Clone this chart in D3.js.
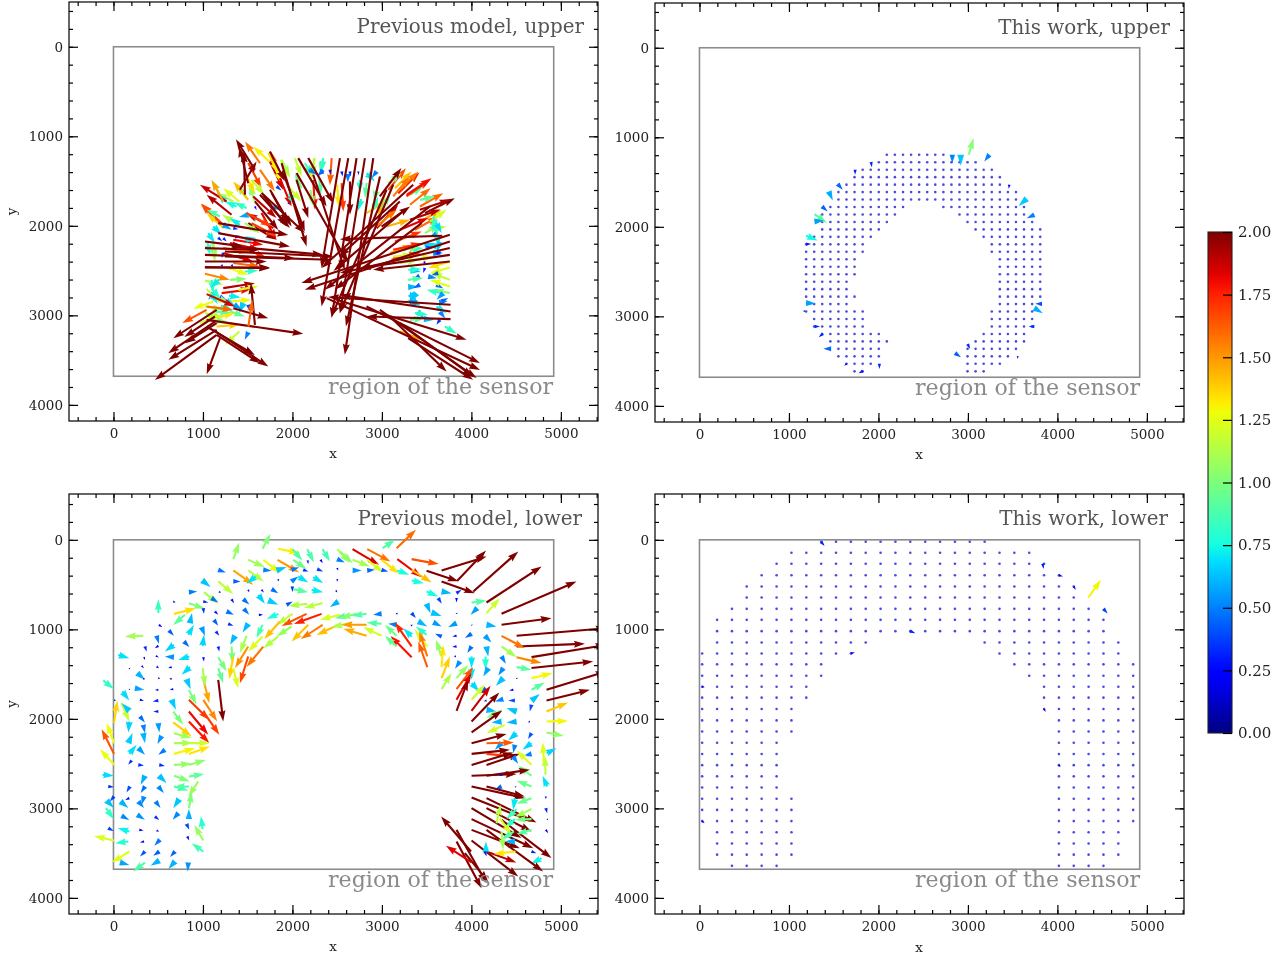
<!DOCTYPE html>
<html><head><meta charset="utf-8">
<script src="https://cdn.jsdelivr.net/npm/d3@7/dist/d3.min.js"></script>
<style>html,body{margin:0;background:#fff}svg{display:block;filter:blur(.3px)}text{font-family:"DejaVu Serif",serif}</style>
</head><body><svg id="c" width="1288" height="959"></svg>
<script>
// ---- values: [x, y, u, v] ----
const prevLowerArrows = [
[1339,216,.35,-.98],[1666,100,.47,-.88],[1841,100,1.27,.25],[2002,104,.57,.67],[2166,104,.39,.78],[2337,104,.43,.73],[2500,104,.75,.82],[1506,223,.98,.43],[1674,223,.98,.78],[1834,223,1.27,.75],[2009,223,.78,.55],[1171,335,.45,.15],[1339,342,1.18,.84],[1506,342,.92,.65],[1674,335,.49,.05],[1823,342,.59,-.2],[1990,335,.45,-.15],[2121,335,.3,.1],[2277,327,.35,.14],[2500,316,.06,.14],[2170,230,.04,.22],[2315,223,.12,.2],[2500,216,.45,.2],
[992,454,.49,.39],[1171,465,.88,.73],[1339,465,.43,0],[1588,410,-.53,.43],[1842,440,0,.14],[1990,465,.4,-.3],[2065,410,.59,.35],[2232,417,.59,.35],[2500,440,.02,.14],[843,584,.49,-.04],[1011,584,.84,.69],[1182,577,.08,.1],[1506,558,.06,.14],[1655,558,.14,.16],[1767,551,.39,.24],[1998,521,.02,.33],[2009,551,.88,.18],[2214,558,.69,.14],[2486,566,.08,.12],
[668,689,.14,.06],[843,708,.94,.33],[1004,689,.3,.06],[1097,651,.39,.25],[1320,663,.14,.24],[1451,663,.35,.31],[1618,614,.39,.53],[1730,677,.59,.25],[1935,726,.35,-.2],[2165,715,-1.1,.12],[2337,707,-1.1,.29],[2512,689,-.49,.33],[676,827,1.29,-.33],[799,838,-.69,.59],[855,931,.12,-.6],[1004,764,.04,.33],[1134,800,.2,.2],[1264,800,.43,.2],[1458,771,.31,.35],[1625,838,.25,0],[1842,827,-.69,.31],[2158,827,-1.47,.71],[2326,827,-1.63,.59],[2002,827,-.94,.65],[1860,912,-.92,1.04],[2530,838,-1.18,.29],[2642,838,-.88,.2],[501,819,0,-.82],
[333,1072,-1.08,.04],[508,950,.2,.14],[620,1013,.29,.31],[482,1072,.14,.47],[836,1061,.33,-.59],[985,976,.2,.51],[1123,894,.25,.35],[1145,1024,.2,.25],[1283,938,.3,.12],[1506,938,-.33,.51],[1666,950,-.35,.78],[1990,968,-.88,.59],[2177,950,-.98,.98],[2337,950,-1.29,.84],[2512,950,-1.27,.59],[2642,931,-1.08,.24],[997,1184,.08,-.65],[1358,1072,-.29,.53],[1488,1072,-.39,1.02],[1666,1080,-.84,.88],[1842,1080,-.88,.69],[352,1191,.1,.3],[501,1184,-.2,.14],[676,1173,-.53,.39],[788,1136,.31,.33],[1171,1192,.06,.3],[1320,1192,.06,.98],[1506,1192,-.78,1.27],[1674,1192,-.98,1.2],
[54,1285,.65,.2],[341,1311,.06,.16],[475,1296,.18,.1],[676,1311,-.53,-.04],[847,1303,-.65,.2],[1004,1311,.04,.25],[1171,1311,.49,.84],[1339,1303,-.24,1.33],[1506,1303,-.49,1.57],[177,1434,.04,.06],[315,1408,.14,.14],[482,1415,.14,.1],[650,1422,-.2,.06],[855,1422,-.49,.45],[1171,1434,.29,.88],[1339,1434,.29,1.18],[266,1489,.45,.39],[333,1553,.1,0],[501,1545,.1,.04],[650,1553,-.14,0],[-114,1571,.63,.51],[177,1668,.04,.04],[240,1657,.55,.1],[501,1676,-.2,0],[668,1668,-.2,.04],[817,1557,.24,.59],[1004,1557,.35,1.41],[997,1434,.14,1.08],[1171,1564,.29,2.45],
[17,1787,-.04,.08],[99,1694,.41,.53],[296,1787,.24,.06],[501,1795,-.33,.06],[650,1787,.25,.59],[843,1676,.45,.88],[1004,1787,.82,1.27],[843,1787,1.2,1.18],[6,2048,.2,-1.33],[91,1825,.45,1.08],[177,1910,-.45,-.45],[296,1973,.29,.35],[501,1918,-.29,0],[668,1918,.59,.78],[843,1918,1.14,1.37],[1004,1918,.94,1.37],[177,2030,-.06,.65],[333,2067,.1,.49],[501,2048,.06,.55],[668,2040,1.08,.82],[843,2030,1.2,1.27],[6,2272,-.43,-1.18],[6,2391,-.73,-1.45],[9,2514,-.84,-.92],[166,2271,.25,-.59],[333,2160,.1,.59],[538,2190,-.25,.47],[676,2160,1.04,.29],[676,2271,1.1,0],[855,2271,1.18,0],[676,2391,1.24,-.33],[843,2391,1.24,-.43],[177,2391,.43,-.53],[278,2327,.39,.39],[575,2346,-.39,.29],[203,2465,-.2,.25],[278,2514,.33,.04],[512,2514,.33,.06],[676,2514,1.04,-.06],[843,2514,1,-.29],
[-121,2625,.67,.06],[352,2636,-.25,.53],[508,2636,.45,.43],[676,2636,.94,.33],[843,2644,.9,-.14],[-58,2755,.33,.04],[184,2755,-.2,.35],[352,2755,-.25,.39],[501,2755,.33,.39],[676,2755,.84,.24],[843,2755,-.88,.04],[948,2700,-.59,.88],[844,2998,.16,-.98],[6,2867,-.24,.29],[177,2886,-.25,.1],[278,2923,.33,.39],[80,2923,.45,.39],[-76,2912,.43,.45],[341,2867,-.14,.49],[471,2923,.29,.39],[735,2897,-.35,.53],[-84,2998,.47,.65],[91,3083,.45,.24],[266,3072,.45,.29],[464,3091,.25,.2],[725,3053,-.33,.39],[843,3120,0,-.59],[996,3232,-.1,-.78],[1004,3359,-.53,-.92],[1004,3482,-.69,-.49],[-58,3221,.33,.16],[177,3258,-.69,-.2],[289,3240,.25,.04],[482,3247,.16,.06],[817,3173,.16,.35],[6,3359,-1.18,-.27],[166,3370,-.78,.1],[341,3370,-.24,.06],[519,3351,-.33,.35],[825,3314,.12,.24],[177,3482,-1.04,.65],[352,3482,-.29,.29],[512,3482,-.35,.25],[688,3482,-.29,.33],[73,3605,.55,.14],[352,3605,-.69,.53],[512,3582,-.51,.31],[688,3593,-.39,.45],[836,3605,-.04,.53],
[3164,93,1.14,-1.08],[3008,93,.73,-.49],[2672,104,1.57,.92],[2836,104,1.37,.73],[2531,130,.75,.69],[2672,223,1.02,.39],[2836,223,.94,.75],[2996,223,1.04,.82],[3332,216,1.6,.29],[3172,216,1.43,1.06],[3332,335,1.18,.75],[3499,346,1.88,.62],[3667,342,2.65,-.82],[3842,458,1.69,-1.78],[3667,465,1.96,.69],[4021,577,2.65,-2.35],[4169,700,3.24,-2.12],[4337,826,4.41,-1.9],[4169,819,.78,-.88],[4002,700,.88,-.1],[4337,949,2.94,-.39],[4505,1072,5.3,-.45],[4505,1191,4.02,-.16],[4672,1311,4.41,-.73],[4672,1433,3.63,-.39],[4840,1675,3.53,-1.08],[4840,1795,2.55,-.63],[4337,1072,1.37,.73],[4337,1191,.88,.63],[4505,1311,1.47,.35],[4505,1422,.88,.16],[4672,1545,1.24,-.29],[4672,1675,.78,-.43],[4672,1795,.49,-.39],[4840,1918,1.27,-.53],[4840,2030,1.27,-.04],[4840,2152,1.02,.2],[4840,2383,.59,-.29],[4829,2625,-.04,-1.14],[4810,2495,-.06,-1.22],[4847,2755,-.27,-.63],[4832,2867,0,.15],[4832,2998,.08,.3],[4847,3120,.05,.04],[4832,3240,.14,.2],[4784,3556,-.63,.35],
[2672,342,.53,0],[2836,342,.45,-.04],[2996,335,.39,.1],[3172,342,.71,.25],[3332,454,.73,.16],[3499,577,.69,.29],[3667,577,.59,.1],[3834,596,.29,-.2],[3630,651,.2,.33],[3834,651,0,.25],[3499,715,.24,.55],[3555,812,.59,.2],[4065,763,-.39,.39],[3834,819,.02,.05],[4169,949,.59,.1],[4002,949,.04,.05],[3406,912,.53,.29],[3574,923,.49,.24],[3834,931,-.49,.24],[4151,1072,.39,.39],[3667,1080,-.39,-.16],[3834,1072,-.25,.04],[4002,1050,-.39,.25],[3834,1191,-.25,.04],[4002,1191,-.25,.39],[4169,1191,.1,.59],[4337,1303,.25,.43],[3816,1296,.06,.1],[4002,1303,0,.69],[4158,1303,0,.78],[3872,1359,-.29,.43],[4188,1433,-.29,.49],[4356,1433,-.29,.43],[4002,1433,0,.69],[4505,1545,.05,.05],[4356,1545,-.43,.45],[4002,1601,.45,.49],[4162,1657,-.31,.29],[4468,1675,-.24,.04],[4486,1795,-.39,0],[4672,1843,-.1,.39],[4356,1780,-.49,.14],[4169,1795,-.16,.04],[4505,1918,-.59,-.2],[4169,1899,.59,.1],[4337,1906,-.88,.45],[4505,2030,-.59,.06],[4337,2030,-.59,.06],[4653,2030,-.1,.04],[4672,2160,-.2,.35],[4374,2067,-1.08,.49],[4505,2160,-.49,.43],[4672,2272,-.53,.39],[4337,2272,-.39,.39],[4486,2290,-.1,.49],[4672,2391,-.49,.12],
[4169,2272,1.61,-.04],[4002,2272,2.06,-.55],[4002,2391,2.25,-.24],[4169,2391,1.67,.16],[4002,2514,2.45,-.73],[4169,2514,1.96,-.65],[4672,2514,-.88,-.84],[4467,2420,.29,.43],[4672,2636,-.78,-.59],[4002,2636,2.65,-.1],[4169,2636,2.55,-.35],[4318,2625,.2,.04],[4672,2755,-.88,-.33],[4337,2755,-.39,.2],[4492,2755,.02,.06],[4002,2755,3.14,.69],[4169,2755,2.25,.59],[4002,2878,3.53,1.41],[4169,2886,2.94,1.43],[4002,2998,2.94,1.76],[4002,3120,3.63,1.71],[4337,3128,2.94,2.25],[4002,3240,2.84,1.08],[4169,3240,3.33,2.45],[4169,2998,2.65,1.37],[4002,3359,2.75,2.12],[3996,3482,-1.76,-2.06],[3834,3240,1.76,3.14],[3834,3370,1.47,2.75],[3927,3500,1.37,1.67],[4002,3604,-1.51,-.98],[4169,3482,1.76,.65],[4494,3482,-1.3,.14],[4162,3500,0,-.69],[4151,3482,.1,.29],[4281,3165,.24,-1.1],[4486,2886,-.1,.69],[4672,2886,-.88,.33],[4672,3008,-.98,.47],[4672,3120,-.98,.04],[4672,3240,-.88,.24],[4505,3008,-.59,.59],[4486,3120,-.59,.53],[4318,3109,.69,.98],[4475,3258,-.73,.49],[4337,3258,.1,1.08],[4486,3370,-.59,0],[4672,3482,.29,.1],
[2717,826,-.98,.25],[2829,826,-.88,.12],[2996,826,-.49,.06],[3164,819,.04,.1],[3332,819,.25,.29],[2829,949,-1.47,0],[2996,938,-.88,-.08],[3164,949,-.49,-.06],[3332,949,0,.1],[2829,1072,-1.37,-.41],[2996,1072,-1.08,-.51],[3164,1072,-.69,-.65],[3332,1191,-.98,-1.41],[3332,1080,-.49,-.49],[3499,1061,-.63,-.49],[3507,1191,-.73,-.98],[3332,1311,-1.24,-1.25],[3164,1191,-.69,-.63],[3507,1303,-.47,-1.47],[3507,1422,-.53,-1.51],[3667,1303,-.33,-.98],[3667,1422,.1,-1.31],[3667,1545,.49,-1.27],[3667,1668,.59,-.94],[3834,1545,.69,-.78],[3834,1668,.98,-1.29],[3834,1787,.88,-1.57],[3834,1910,.69,-1.82],[4002,1787,.78,-.88],[4002,1910,1.12,-1.47],[4002,2030,1.63,-1.7],[4002,2152,1.8,-1.29]
];
const prevUpperColoured = [
[1179,1635,-.43,-.78],[1406,1728,-.94,-.78],[1488,1690,-.6,-.8],[1581,1728,-.35,-.98],[1190,1970,-1.14,-1.14],[1235,2026,-1.02,-.88],[1395,1988,-.95,-.6],[1339,1728,-.98,-.49],[1488,1802,-.73,-.33],[1376,1784,-.69,-.29],[1413,1988,-.59,-.39],[1507,1876,-.55,.14],[1060,2082,.39,.59],[1115,2212,.06,.88],[1227,1988,.49,.29],[1115,2007,.49,.49],[1170,2134,.24,.2],[1339,2026,.29,.06],[1358,2126,.29,-.08],[1637,1932,-.78,-.29],[1786,2026,-1.57,-.88],[1506,1970,1.67,.98],[1469,1970,.88,.59],[1637,1653,1.76,1.96],[1581,1728,1.37,1.67],[1767,1634,.98,1.76],[1749,1597,1.27,2.16],[1749,1281,.78,1.67],[1842,1448,-.43,-1.47],[1730,1188,.59,1.18],[1506,1299,.78,1.47],[1637,1374,.88,1.27],[1469,1411,.59,1.18],[1544,1486,.75,.88],[1871,1262,.53,1.08],[1786,1299,.49,1.18],[1953,1560,.78,.88],[2028,1244,.39,1.08],[2102,1579,-.39,-.88],[1823,1560,.29,.24],[1786,1784,.49,.2],[1952,1740,.16,.14],[1581,1784,.1,.2],[1655,1858,.88,1.57],[1227,2249,1.57,.24],
[1748,1169,.88,1.76],[1879,1262,.49,.98],[2140,1299,.39,.78],[2195,1355,.39,.39],[2344,1393,-.35,.2],[2251,1244,-.2,1.27],[2344,1244,-.2,.88],[2233,1486,.1,1.76],[1860,1467,.69,1.67],[1562,1672,1.37,1.27],[1674,1653,1.37,1.86],[1488,1858,1.47,.78],[1544,1970,1.47,.78],[1506,1709,-.88,-1.08],[1246,1728,-.45,-.49],[1209,1970,-1.18,-1.14],[1190,1895,-.78,-.39],[1302,2193,1.76,.39],[1227,2305,1.76,.49],[1339,2416,1.57,.2],[1413,2230,1.57,.69],[1339,2156,1.76,.29],[1469,2156,.69,-.1],[1115,2193,.1,1.08],[1227,2138,.2,.2],[1227,2305,-.1,.29],[1209,2435,.06,.14],[1320,2435,.1,.14],
[1022,2536,1.47,.35],[1227,2696,1.86,-.29],[1022,2610,1.08,.25],[1302,2603,1,-.06],[1469,2510,.78,-.06],[1283,2472,1.18,.39],[1115,2845,-1.18,.43],[1209,2752,1.76,-.24],[1097,2603,.1,.78],[1115,2752,-.29,.39],[1041,2707,.78,.82],[1190,2789,.39,.2],[1115,2789,.98,.39],[1022,2901,1.08,.2],[1022,2975,1.08,.29],[1302,2845,1.27,-.1],[1395,2715,1.18,-.2],[1302,2957,.88,.29],[1115,3031,1.27,-.29],[1153,3124,1.37,-.1],[966,3087,1.08,-.49],[1451,2863,-.24,.59],[1506,2882,.1,.39],[1506,3188,-.2,.45],[1406,3180,-.84,.78],
[1050,2180,.15,.8],[1100,2700,.5,.6],[1090,2760,.4,.6],[1180,2600,-.5,.5],[1250,2830,.6,.35],[1200,2890,.7,.3],[1290,2780,.7,.1],[1350,2880,.45,.3],[1140,2960,.9,.05],[1080,3050,1,.1],
[3183,1635,1.24,-1.22],[3313,1765,1.22,-.98],[3425,1784,1.37,-.78],[3481,1858,1.76,-.88],[3071,1598,1.04,-1.27],[3071,1523,.78,-.59],[3146,1579,.98,-.98],[3425,1710,.88,-.2],[3313,1654,.78,-.49],[3425,1952,1.27,-.69],[3369,2045,1.37,-.78],[3146,2175,1.57,-.59],[3108,2380,1.67,-.39],[3090,2305,1.37,-.49],[3537,1952,.98,-.69],[3481,2082,.88,-.49],[3574,1896,.2,.8],[3574,2082,.39,.39],[3481,2231,.59,-.2],[3574,2305,.49,-.1],[3313,2268,.78,-.1],[3201,2417,1.08,-.2],[3239,2268,.98,-.2],[2941,2026,1.27,-1.37],
[3052,2007,1.37,-.39],[3126,2268,1.67,-.39],[3126,2361,1.6,-.3],[2940,2007,1.18,-.98],[2828,1858,1.18,-.69],[2977,1672,1.27,-1.67],[3126,1672,.98,-1.18],[3201,1597,1.08,-1.08],[3275,1672,1.37,-.98],[3424,1821,1.8,-.6],[3312,1932,1.8,-.6],[3201,2044,1.67,-.69],[3517,2044,1.08,-.2],[3555,1970,.4,.7],[3629,2231,-.69,-.1],[3350,2379,1.18,-.2],[3573,2305,.59,0],[3480,2472,-.1,.29],[3610,2659,.39,.2],[3350,2752,-.2,.6],[3424,2882,-.78,-.29],
[3610,1970,.3,.6],[3610,2100,.2,.7],[3650,2180,-.2,.6],[3500,2250,.4,-.1],[3650,2300,-.4,.1],[3320,2500,.6,.05],[3420,2560,-.4,.2],[3320,2760,.4,.5],[3640,2860,.5,-.1],[3400,2960,.4,.4],[3310,2860,.6,.1],[3470,3040,.6,.05],[3650,2960,.3,.4],
[2345,1244,-.1,.8],[2241,1244,-.08,1.08],[2438,1244,-.1,1.6],[2196,1374,.39,.29],[2337,1374,-.25,.39],[2419,1374,.04,.29],[2550,1393,.06,.29],[2643,1393,.04,.29],[2736,1393,.02,.2],[2829,1412,.49,.49],[2941,1393,-.29,.39],[2550,1523,.1,1.67],[2643,1505,0,1.96],[2754,1486,0,.78],[2903,1821,.29,-.78],[3034,1635,-.39,1.37],
[2300,1480,.1,.9],[2620,1420,0,.5],[2830,1520,-.1,.9],[2950,1560,-.2,.9],[3000,1800,.5,-.8],[2770,1700,-.2,.7],[2500,1540,.1,1.3],[2200,1600,.2,1],[1960,1640,.4,.7],
[3759,2398,-1.27,.39],[3759,2465,-1.18,.35],[3759,2603,-1.08,-.39],[3759,2677,-1.18,-.39],[3759,2751,-.98,-.2],[3647,2751,-.78,-.2],[3294,2491,.78,-.04],[3294,2603,.88,-.1],[3294,2685,.59,-.04],[3424,2659,-.39,.2],[3387,2752,-.39,.49],[3387,2864,-.49,-.2],[3610,2901,.59,.39],[3685,2752,-.39,.39],[3647,3050,-.2,.29],[3313,3050,.88,-.1],[3704,3124,.69,.43],[3201,3180,1.37,.49],[3368,2975,.78,.1],[3473,2398,.08,.2],[3610,2305,.29,-.04],[3126,2342,1.18,-.1],[3518,2566,.5,.1],[3629,2529,-.4,.12],[3666,2845,.4,-.2]
];
const prevUpperDark = [
[1581,1374,-1.12,-1.8],[1506,1523,-.53,-2.16],[1637,1299,-.88,-1.27],[1469,1653,-.06,-2.55],[1741,1281,-.94,-.88],[1413,1597,.98,-1.67],[1264,1728,-1.57,-.98],[1320,1877,-1.47,-1.18],[1227,1728,-.69,-1.27],
[1171,1970,4.12,.69],[1171,2082,4.22,.78],[1022,2175,2.25,.29],[1022,2249,3.24,.1],[1022,2324,5.29,.2],[1246,2286,6.37,.29],[1022,2398,3.63,0],[1022,2465,3.82,0],[1246,2342,6.27,.2],[1320,2230,5.39,.49],
[1879,1299,1.47,4.9],[1655,1634,2.55,2.35],[2046,1411,3.04,5.29],[1897,1411,1.27,3.43],[2065,1244,1.67,2.84],[2177,1244,1.47,2.65],[2232,1430,1.86,5.59],[2046,1486,.69,2.25],
[2531,1244,-1.08,6.47],[2624,1244,-1.57,8.73],[2717,1244,-1.47,9.41],[2810,1244,-1.47,9.12],[2903,1244,-1.67,11.57],[2978,1449,-2,8.82],
[3759,2100,-8.73,2.84],[3759,2175,-8.53,2.84],[3759,2249,-6.47,1.47],[3759,2324,-5.29,.78],[3759,2398,-4.51,.49],[3052,1597,-3.24,7.45],[3350,1541,-5.39,4.9],[3536,1783,-6.18,4.9],[3126,1541,-3.14,7.55],[3201,1728,-3.57,3.24],[3674,2111,-6.02,.2],[3276,1654,1.47,-.98],[2997,2008,1.67,-1.18],[3257,1821,-4.2,3.6],[3443,1970,-5.1,3.9],
[3767,2882,-7.2,-.45],[3767,2957,-6.51,-.98],[3767,3042,-4.94,-.16],[2382,2808,9.02,4.22],[2493,2826,7.65,2.35],[2828,2901,6.67,3.33],[2977,2938,5.69,4.02],[3201,3087,4.31,3.14],[3126,3050,3.14,3.04],[3294,3255,3.82,2.45],
[1041,2938,-1.43,.78],[1153,2938,-2.55,1.67],[1134,3069,-2.75,1.86],[1153,3162,-2.84,1.76],[1153,3087,-1.86,1.18],[1153,3218,-3.63,2.65],[1190,3255,-.78,2.12],[1041,3125,2.84,1.67],[1115,3162,3.24,2.16],[1153,3218,2.55,1.67],[1041,3050,5.69,.82],[1339,2920,2.06,.59],[1581,3106,-.24,-2.45],[1507,3125,.24,-1.57],[1022,2462,3.82,.06],[1041,2763,1.67,.73],[1041,2901,1.57,.2],[1134,3013,-1.8,1.2]
];
const thisUpperArrows = [
[3009,1195,.29,-.97],[2919,1195,0,.63],[2826,1195,0,.5],[3240,1195,-.3,.4],[1918,1277,.05,.3],[1739,1362,0,.3],[1545,1523,.3,.33],[1445,1605,.24,.53],[1370,1773,.33,.29],[1285,1858,.72,.53],[1285,1940,.55,-.06],[1192,2100,.68,.27],[1192,2193,.3,0],[1192,2852,.55,.02],[1168,2947,.04,-.1],[1285,3113,.33,0],[1378,3195,-.24,.2],[1471,3362,-.45,0],[1645,3530,-.14,.12],[2011,3530,0,.3],[1824,3612,-.24,.12],[3657,1686,-.47,.43],[3742,1866,-.45,.2],[3463,1530,-.04,.24],[3828,2860,-.4,0],[3742,2908,.5,.3],[3742,3113,-.33,0],[2856,3411,.35,.24],[2998,3310,.14,.28],[3556,3446,0,.15]
];
const thisLowerArrows = [
[4346,644,.745,-1.04],[3836,268,.06,.3],[4017,395,.24,.08],[4183,521,.12,.2],[4515,771,.25,.27],[3851,1890,.1,.18],[4017,2517,.1,.1],[1360,22,.2,.25],[2356,1020,.3,.12],[1692,1270,.24,-.08],[30,1641,.15,.03],[30,3142,.15,.13]
];
const thisUpperCols = [1192,1282,1372,1463,1553,1643,1733,1824,1914,2004,2094,2184,2275,2365,2455,2545,2635,2726,2816,2906,2996,3086,3176,3267,3357,3447,3537,3627,3718,3808];
const thisUpperRows = [
[1195,[[10,17]]],[1278,[[9,21]]],[1362,[[7,23]]],[1445,[[6,24]]],[1529,[[5,24]]],[1612,[[4,26]]],[1695,[[4,26]]],[1779,[[3,12],[17,27]]],[1862,[[2,11],[19,27]]],[1946,[[2,10],[20,28]]],[2029,[[2,9],[21,29]]],[2112,[[1,8],[22,29]]],[2196,[[0,7],[23,29]]],[2279,[[0,7],[23,29]]],[2363,[[0,6],[24,29]]],[2446,[[0,6],[24,29]]],[2529,[[0,6],[24,29]]],[2613,[[0,5],[24,29]]],[2696,[[0,5],[24,29]]],[2780,[[0,6],[24,29]]],[2863,[[1,5],[24,29]]],[2946,[[0,7],[23,28]]],[3030,[[1,7],[23,28]]],[3113,[[1,7],[23,28]]],[3197,[[2,9],[22,27]]],[3280,[[3,10],[21,27]]],[3363,[[4,9],[20,26]]],[3447,[[4,9],[20,25]]],[3530,[[5,8],[20,24]]],[3614,[[6,7],[20,22]]]
];
const thisLowerCols = [30,197,363,528,695,862,1028,1194,1360,1526,1692,1858,2024,2190,2356,2523,2689,2855,3021,3187,3353,3519,3685,3851,4017,4183,4349,4515,4681,4847];
const thisLowerRows = [
[22,[[8,19]]],[145,[[6,22]]],[268,[[5,23]]],[395,[[4,24]]],[521,[[3,25]]],[644,[[3,25]]],[771,[[2,26]]],[894,[[1,27]]],[1020,[[1,27]]],[1147,[[1,11],[19,28]]],[1270,[[0,10],[20,28]]],[1391,[[0,8],[21,29]]],[1518,[[0,8],[22,29]]],[1641,[[0,7],[23,29]]],[1763,[[0,7],[23,29]]],[1890,[[0,6],[23,29]]],[2017,[[0,6],[24,29]]],[2142,[[0,6],[24,29]]],[2267,[[0,5],[24,29]]],[2392,[[0,5],[24,29]]],[2517,[[0,5],[24,29]]],[2642,[[0,5],[24,29]]],[2767,[[0,5],[24,29]]],[2892,[[0,6],[24,29]]],[3017,[[0,6],[24,29]]],[3142,[[0,6],[24,29]]],[3267,[[1,6],[24,28]]],[3392,[[1,6],[24,28]]],[3517,[[1,6],[24,28]]],[3642,[[2,5],[24,27]]]
];
const xTicks = [0,1000,2000,3000,4000,5000];
const yTicks = [0,1000,2000,3000,4000];
const colorTicks = [0,.25,.5,.75,1,1.25,1.5,1.75,2];
const sensorW = 4920, sensorH = 3680;
const titles = ["Previous model, upper","This work, upper","Previous model, lower","This work, lower"];

// ---- colour ----
const jetR = d3.scaleLinear([0,.35,.66,.89,1],[0,0,1,1,.5]);
const jetG = d3.scaleLinear([0,.125,.375,.64,.91,1],[0,0,1,1,0,0]);
const jetB = d3.scaleLinear([0,.11,.34,.65,1],[.5,1,1,0,0]);
const jet = t => { t=Math.max(0,Math.min(1,t)); return `rgb(${Math.round(jetR(t)*255)},${Math.round(jetG(t)*255)},${Math.round(jetB(t)*255)})`; };

// ---- layout ----
const panels = [
 {x:[69,598],y:[2,421],dy:[-500,4180],ttl:[584,33],reg:[553,394],xl:[333,458],yl:true,arrows:[...prevUpperColoured,...prevUpperDark]},
 {x:[655,1184],y:[3,422],dy:[-500,4180],ttl:[1170,34],reg:[1140,395],xl:[919,459],yl:false,arrows:thisUpperArrows,cols:thisUpperCols,rows:thisUpperRows},
 {x:[69,598],y:[494,914],dy:[-512,4180],ttl:[582,525],reg:[553,887],xl:[333,951],yl:true,arrows:prevLowerArrows},
 {x:[655,1184],y:[494,914],dy:[-512,4180],ttl:[1168,525],reg:[1140,887],xl:[919,952],yl:false,arrows:thisLowerArrows,cols:thisLowerCols,rows:thisLowerRows}
];
const svg = d3.select("#c");
const pxPerUnit = 17, shaft = 2.1, headW = 7, headL = 11, colourTop = 1.97;

function arrowPath(px,py,dx,dy){
  const L=Math.hypot(dx,dy); if(L<.01) return "";
  const ux=dx/L,uy=dy/L; const k=Math.min(1,L/headL);
  const hl=headL*k,hw=Math.max(1.1,headW*k/2),sw=shaft*k/2;
  const P=(a,b)=>[px+ux*a-uy*b,py+uy*a+ux*b];
  const pts=L>headL?[P(0,-sw),P(L-hl*.9,-sw),P(L-hl,-hw),P(L,0),P(L-hl,hw),P(L-hl*.9,sw),P(0,sw)]:[P(0,0),P(L-hl,-hw),P(L,0),P(L-hl,hw)];
  return "M"+pts.map(p=>p[0].toFixed(1)+","+p[1].toFixed(1)).join("L")+"Z";
}

panels.forEach((p,i)=>{
  const xs=d3.scaleLinear([-497,5415],p.x), ys=d3.scaleLinear(p.dy,p.y);
  const g=svg.append("g");
  const id="clip"+i;
  svg.append("clipPath").attr("id",id).append("rect").attr("x",p.x[0]).attr("y",p.y[0]).attr("width",p.x[1]-p.x[0]).attr("height",p.y[1]-p.y[0]);
  g.append("rect").attr("x",xs(0)).attr("y",ys(0)).attr("width",xs(sensorW)-xs(0)).attr("height",ys(sensorH)-ys(0))
    .attr("fill","none").attr("stroke","#8c8c8c").attr("stroke-width",1.6);
  const m=g.append("g").attr("clip-path",`url(#${id})`);
  if(p.rows){
    const dots=p.rows.flatMap(([y,runs])=>runs.flatMap(([a,b])=>d3.range(a,b+1).map(k=>[p.cols[k],y])));
    m.selectAll("circle").data(dots).join("circle").attr("cx",d=>xs(d[0])).attr("cy",d=>ys(d[1])).attr("r",1.3).attr("fill","#2a2ad8").attr("fill-opacity",.85);
  }
  m.selectAll("path").data(p.arrows).join("path")
    .attr("d",d=>arrowPath(xs(d[0]),ys(d[1]),d[2]*pxPerUnit,d[3]*pxPerUnit))
    .attr("fill",d=>jet(Math.hypot(d[2],d[3])/colourTop));
  g.append("text").attr("x",p.ttl[0]).attr("y",p.ttl[1]).attr("text-anchor","end").attr("font-size",19.9).attr("fill","#555").text(titles[i]);
  g.append("text").attr("x",p.reg[0]).attr("y",p.reg[1]).attr("text-anchor","end").attr("font-size",22.1).attr("fill","#8a8a8a").text("region of the sensor");

  const xMinor=d3.range(-400,5401,200), yMinor=d3.range(-400,4181,200);
  const side=(axis,vals,size,tr,labels)=>{
    const a=g.append("g").attr("transform",tr).call(axis.tickValues(vals).tickSize(size).tickSizeOuter(0).tickFormat(labels?d3.format("d"):""));
    a.select(".domain").remove();
    a.selectAll("line").attr("stroke","#000").attr("stroke-width",1.2);
    a.selectAll("text").attr("font-size",13.5).attr("fill","#222").attr("font-family","DejaVu Serif");
    return a;
  };
  // inward ticks on all four sides, labels on the bottom and left
  const b=side(d3.axisBottom(xs),xTicks,-9,`translate(0,${p.y[1]})`,true); b.selectAll("text").attr("y",7).attr("dy",".71em");
  side(d3.axisBottom(xs),xMinor,-4,`translate(0,${p.y[1]})`,false);
  side(d3.axisTop(xs),xTicks,-9,`translate(0,${p.y[0]})`,false);
  side(d3.axisTop(xs),xMinor,-4,`translate(0,${p.y[0]})`,false);
  const l=side(d3.axisLeft(ys),yTicks,-9,`translate(${p.x[0]},0)`,true); l.selectAll("text").attr("x",-6);
  side(d3.axisLeft(ys),yMinor,-4,`translate(${p.x[0]},0)`,false);
  side(d3.axisRight(ys),yTicks,-9,`translate(${p.x[1]},0)`,false);
  side(d3.axisRight(ys),yMinor,-4,`translate(${p.x[1]},0)`,false);
  g.append("rect").attr("x",p.x[0]).attr("y",p.y[0]).attr("width",p.x[1]-p.x[0]).attr("height",p.y[1]-p.y[0]).attr("fill","none").attr("stroke","#000").attr("stroke-width",1.2);
  g.append("text").attr("x",p.xl[0]).attr("y",p.xl[1]).attr("text-anchor","middle").attr("font-size",13.5).attr("fill","#222").text("x");
  if(p.yl) g.append("text").attr("transform",`translate(16,${(p.y[0]+p.y[1])/2}) rotate(-90)`).attr("text-anchor","middle").attr("font-size",13.5).attr("fill","#222").text("y");
});

// ---- colour bar ----
const cb={x:1208,w:24,y0:733,y1:232};
const cs=d3.scaleLinear([0,2],[cb.y0,cb.y1]);
const defs=svg.append("defs").append("linearGradient").attr("id","jetg").attr("x1",0).attr("x2",0).attr("y1",1).attr("y2",0);
d3.range(0,1.0001,.02).forEach(t=>defs.append("stop").attr("offset",t).attr("stop-color",jet(t)));
svg.append("rect").attr("x",cb.x).attr("y",cb.y1).attr("width",cb.w).attr("height",cb.y0-cb.y1).attr("fill","url(#jetg)").attr("stroke","#222").attr("stroke-width",1.1);
const ca=svg.append("g").attr("transform",`translate(${cb.x+cb.w},0)`).call(d3.axisRight(cs).tickValues(colorTicks).tickSize(-9).tickSizeOuter(0).tickPadding(15).tickFormat(d3.format(".2f")));
ca.select(".domain").remove();
ca.selectAll("line").attr("stroke","#000").attr("stroke-width",1.2);
ca.selectAll("text").attr("font-size",15).attr("fill","#222").attr("font-family","DejaVu Serif").attr("x",6);
</script></body></html>
